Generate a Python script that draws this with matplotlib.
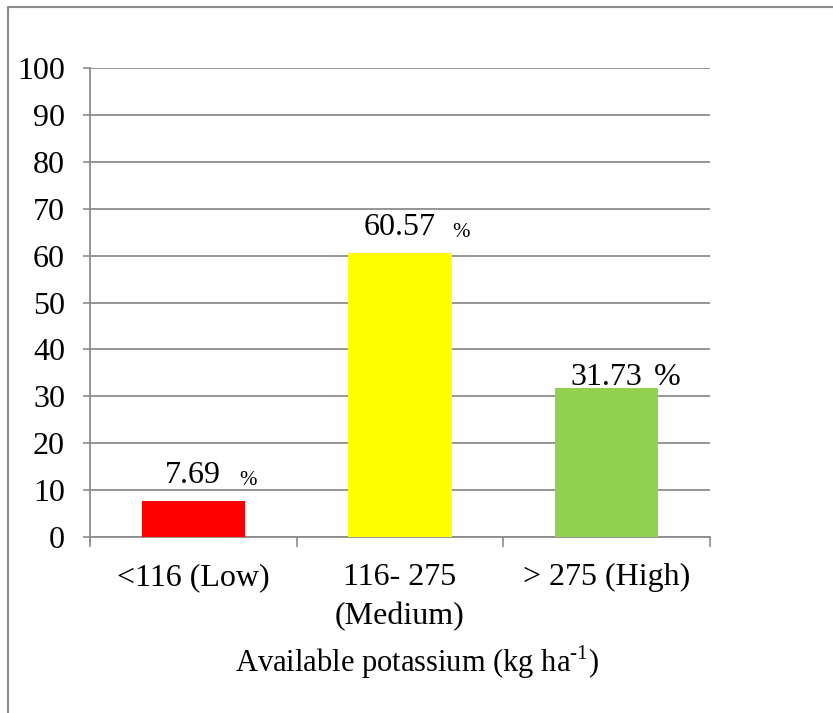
import matplotlib.pyplot as plt
from matplotlib.patches import Rectangle

## --Data
categories = ["<116 (Low)", "116- 275\n(Medium)", "> 275 (High)"]
percent = [7.69, 60.57, 31.73]
bar_colors = ["#ff0000", "#ffff00", "#92d050"]
yticks = list(range(0, 101, 10))

## --Label styling (offset above bar, gap before %, size of %)
label_rise = [13, 13, 2]
pct_gap = [13, 12, 8]
pct_size = [15, 15, 23]

## --Fonts
plt.rcParams["font.family"] = ["Liberation Serif", "DejaVu Serif"]
plt.rcParams["mathtext.fontset"] = "custom"
plt.rcParams["mathtext.rm"] = "Liberation Serif"
plt.rcParams["font.size"] = 23

grid_col = "#8c8c8c"

fig = plt.figure(figsize=(8.33, 7.13), dpi=100)
ax = fig.add_axes([90 / 833, 1 - 537 / 713, 620 / 833, 469 / 713])

x = list(range(len(categories)))
ax.bar(x, percent, width=0.5, color=bar_colors, zorder=3)

ax.set_xlim(-0.5, len(categories) - 0.5)
ax.set_ylim(0, 100)
ax.set_yticks(yticks)
ax.set_xticks(x)
ax.set_xticklabels(categories, linespacing=1.45)
ax.set_xticks([i - 0.5 for i in range(len(categories) + 1)], minor=True)

ax.tick_params(axis="x", which="major", length=0, pad=19)
ax.tick_params(axis="x", which="minor", length=7, width=1.2, color=grid_col)
ax.tick_params(axis="y", length=5, width=1.2, color=grid_col, pad=13)
ax.yaxis.grid(True, color=grid_col, linewidth=1.3, zorder=0)
ax.set_axisbelow(True)

for s in ["top", "right"]:
    ax.spines[s].set_visible(False)
for s in ["left", "bottom"]:
    ax.spines[s].set_color(grid_col)
    ax.spines[s].set_linewidth(1.3)
ax.spines["left"].set_bounds(-5 / 4.69, 100)

## --Value labels with a separate % sign
for i, v in enumerate(percent):
    num = ax.annotate(f"{v:.2f}", xy=(i, v), xytext=(0, label_rise[i]),
                      textcoords="offset points", ha="center", va="baseline")
    ax.annotate("%", xy=(1, 0), xycoords=num, xytext=(pct_gap[i], 0),
                textcoords="offset points", ha="left", va="bottom",
                fontsize=pct_size[i])

fig.text(417 / 833, 1 - 662 / 713, r"Available potassium (kg ha$^{\text{-}1}$)",
         ha="center", va="center", fontsize=22)

## --Outer chart frame
fig.patches.append(Rectangle((8 / 833, -0.1), 1.2, 1 - 7 / 713 + 0.1,
                             transform=fig.transFigure, fill=False,
                             edgecolor="#8a8a8a", linewidth=1.5))

fig.savefig("out.png", dpi=100)
